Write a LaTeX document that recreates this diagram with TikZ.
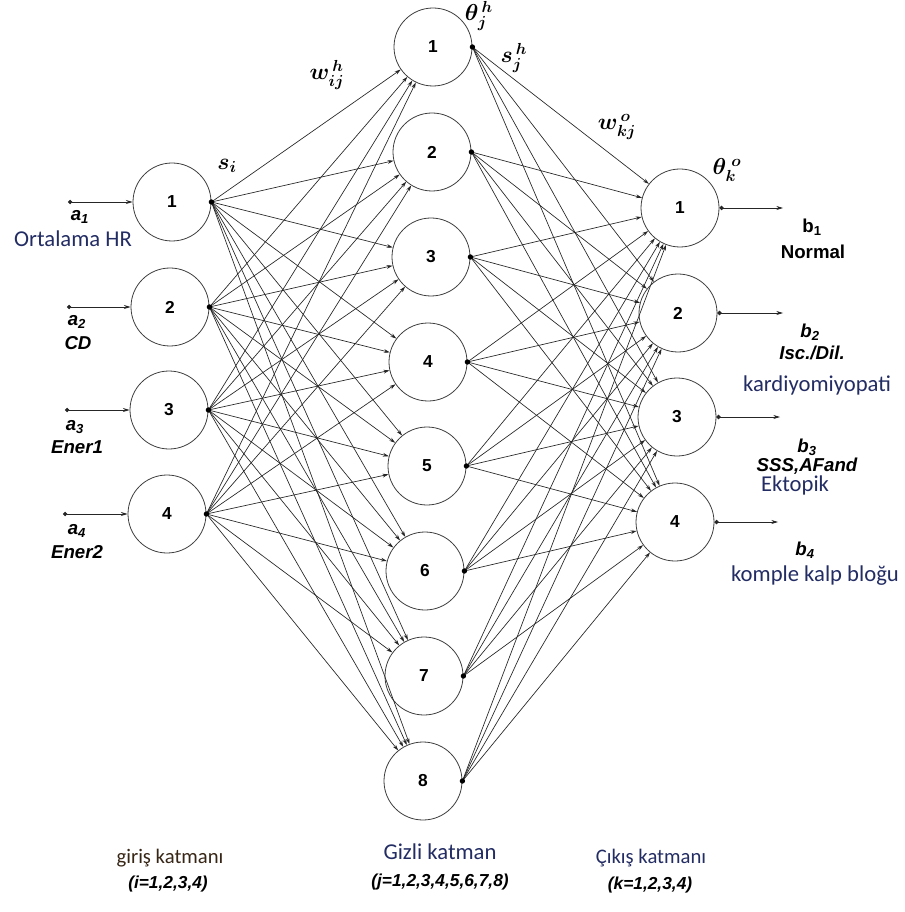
\documentclass[tikz,border=0pt]{standalone}
\usepackage{fontspec}
\setmainfont{Liberation Sans}
\newfontfamily\calfont{Carlito}
\usetikzlibrary{arrows.meta}

\begin{document}
\begin{tikzpicture}[x=0.75pt,y=-0.75pt,
    neuron/.style={circle,draw=black!75,line width=0.6pt,minimum size=58.5pt,inner sep=0pt,
      font=\fontsize{13}{15}\selectfont\bfseries},
    conn/.style={black!85,line width=0.5pt,-{Stealth[length=4.5pt,width=2.8pt]}},
    io/.style={black!85,line width=0.6pt,{Circle[length=3.2pt]}-{Stealth[length=5pt,width=3pt]}},
    lab/.style={inner sep=0pt,font=\fontsize{14}{16}\selectfont\bfseries\itshape},
    nom/.style={inner sep=0pt,font=\fontsize{14}{16}\selectfont\bfseries},
    azl/.style={inner sep=0pt,text=azul,font=\calfont\fontsize{17}{20}\selectfont},
    capa/.style={inner sep=0pt,text=azul,font=\calfont\fontsize{15.5}{18}\selectfont},
    idx/.style={inner sep=0pt,font=\fontsize{13}{15}\selectfont\bfseries\itshape},
    mat/.style={inner sep=0pt,font=\fontsize{17}{19}\selectfont\boldmath}]
        %colores
        \definecolor{azul}{RGB}{35,45,100}
        \definecolor{marron}{RGB}{55,38,22}

        % fondo
        \fill[white] (0,0) rectangle (904,912);
        \useasboundingbox (0,0) rectangle (904,912);

        % Capas
        \foreach \n/\x/\y in {1/172/202, 2/170/307, 3/169/410, 4/167/514}
            \node[neuron] (in\n) at (\x,\y) {\n};
        \foreach \n/\x/\y in {1/433/47, 2/432/152, 3/431/257, 4/428/362, 5/427/466, 6/425/571, 7/424/676, 8/423/781}
            \node[neuron] (hid\n) at (\x,\y) {\n};
        \foreach \n/\x/\y in {1/680/208, 2/678/313, 3/677/417, 4/675/522}
            \node[neuron] (out\n) at (\x,\y) {\n};

        % Conexiones
        \foreach \i in {1,...,4}
            \foreach \j in {1,...,8}
                \draw[conn] (in\i.east) -- (hid\j);
        \foreach \j in {1,...,8}
            \foreach \k in {1,...,4}
                \draw[conn] (hid\j.east) -- (out\k);
        \foreach \n in {1,...,4} \fill (in\n.east) circle (2pt);
        \foreach \n in {1,...,8} \fill (hid\n.east) circle (2pt);

        % Entradas y salidas
        \foreach \n/\x/\y in {1/68/202, 2/67/307, 3/65/410, 4/63/514}
        {
            \coordinate (ina\n) at (\x,\y);
            \draw[io] (ina\n) -- (in\n);
        }
        \foreach \n/\x/\y in {1/783/208, 2/783/313, 3/780/417, 4/778/522}
        {
            \coordinate (outb\n) at (\x,\y);
            \draw[io] (out\n.east) -- (outb\n);
        }

        % Etiquetas entrada
        \node[lab] (la1) at (80,217) {a\textsubscript{1}};
        \node[azl] (lt1) at (73,239) {Ortalama HR};
        \node[lab] (la2) at (77,322) {a\textsubscript{2}};
        \node[lab] (lt2) at (78,343) {CD};
        \node[lab] (la3) at (75,427) {a\textsubscript{3}};
        \node[lab] (lt3) at (77,447) {Ener1};
        \node[lab] (la4) at (77,531) {a\textsubscript{4}};
        \node[lab] (lt4) at (77,552) {Ener2};

        % Etiquetas salida
        \node[nom] (lb1) at (812,227) {b\textsubscript{1}};
        \node[nom] (lr1) at (813,252) {Normal};
        \node[lab] (lb2) at (810,332) {b\textsubscript{2}};
        \node[lab] (lr2) at (812,353) {Isc./Dil.};
        \node[azl] (lk2) at (817,385) {kardiyomiyopati};
        \node[lab] (lb3) at (807,447) {b\textsubscript{3}};
        \node[lab] (lr3) at (807,466) {SSS,AFand};
        \node[azl] (lk3) at (795,485) {Ektopik};
        \node[lab] (lb4) at (805,550) {b\textsubscript{4}};
        \node[azl] (lk4) at (815,576) {komple kalp bloğu};

        % Pesos y umbrales
        \node[mat] (si) at (227,166) {$s_i$};
        \node[mat] (wh) at (327,75) {$w_{ij}^{\,h}$};
        \node[mat] (th) at (479,16) {$\theta_j^{\,h}$};
        \node[mat] (sh) at (514,58) {$s_j^{\,h}$};
        \node[mat] (wo) at (617,127) {$w_{kj}^{\,o}$};
        \node[mat] (to) at (727,170) {$\theta_k^{\;o}$};

        % Nombres de capas
        \node[capa,text=marron] (cin) at (170,858) {giriş katmanı};
        \node[idx] (iin) at (168,884) {(i=1,2,3,4)};
        \node[capa,font=\calfont\fontsize{17}{20}\selectfont] (chid) at (440,852) {Gizli katman};
        \node[idx] (ihid) at (440,882) {(j=1,2,3,4,5,6,7,8)};
        \node[capa] (cout) at (651,858) {Çıkış katmanı};
        \node[idx] (iout) at (650,885) {(k=1,2,3,4)};
\end{tikzpicture}
\end{document}
